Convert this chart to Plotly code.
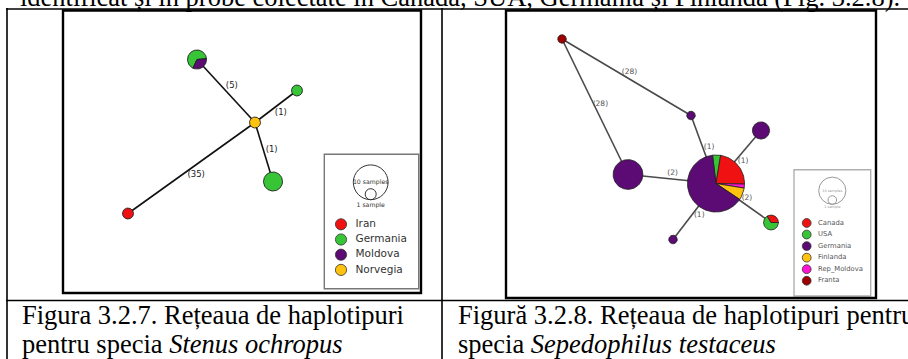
import numpy as np
import plotly.graph_objects as go

W, H = 908, 359

# ---------------- Stenus ochropus haplotype network ----------------
so_countries = ["Iran", "Germania", "Moldova", "Norvegia"]
so_colors = ["#f01212", "#37c437", "#5c0a74", "#ffc20e"]
so_slice_order = ["Germania", "Moldova", "Iran", "Norvegia"]
# node layout (network units) and sample counts per country
so_node_x = [134, 234, 192, 210, 65]
so_node_y = [49, 80, 112, 171, 203]
so_node_counts = [
    {"Germania": 2, "Moldova": 1},
    {"Germania": 1},
    {"Norvegia": 1},
    {"Germania": 3},
    {"Iran": 1},
]
so_node_start = [-115, 90, 90, 90, 90]
so_edges = [(2, 0), (2, 1), (2, 3), (2, 4)]
so_edge_steps = [5, 1, 1, 35]
so_edge_side = [1, 1, -1, -1]

# ---------------- Sepedophilus testaceus haplotype network ----------------
st_countries = ["Canada", "USA", "Germania", "Finlanda", "Rep_Moldova", "Franta"]
st_colors = ["#f01212", "#37c437", "#5c0a74", "#ffc20e", "#ff14d2", "#9e0000"]
st_slice_order = ["USA", "Canada", "Rep_Moldova", "Finlanda", "Germania", "Franta"]
st_node_x = [56, 185, 255, 122, 210, 265, 167]
st_node_y = [28.5, 105, 120, 164, 173, 212, 229]
st_node_counts = [
    {"Franta": 1},
    {"Germania": 1},
    {"Germania": 4},
    {"Germania": 12},
    {"Canada": 10, "USA": 2, "Germania": 28, "Finlanda": 3, "Rep_Moldova": 1},
    {"Canada": 1, "USA": 2},
    {"Germania": 1},
]
st_node_start = [90, 90, 90, 90, 97, 0, 90]
st_edges = [(0, 1), (0, 3), (4, 1), (4, 2), (3, 4), (4, 5), (4, 6)]
st_edge_steps = [28, 28, 1, 1, 2, 2, 1]
st_edge_side = [-1, -1, 1, 1, -1, -1, -1]

# ---------------- page text ----------------
top_text = "identificat și în probe colectate în Canada, SUA, Germania și Finlanda (Fig. 3.2.8)."
caption_left = ["Figura 3.2.7. Rețeaua de haplotipuri",
                "pentru specia <i>Stenus ochropus</i>"]
caption_right = ["Figură 3.2.8. Rețeaua de haplotipuri pentru",
                 "specia <i>Sepedophilus testaceus</i>"]

fig = go.Figure()


def arc_poly(cx, cy, r, a0, a1, wedge=True):
    n = max(int(abs(a1 - a0) / 3), 8)
    a = np.radians(np.linspace(a0, a1, n))
    xs = list(cx + r * np.cos(a))
    ys = list(cy - r * np.sin(a))
    if wedge:
        xs = [cx] + xs + [cx]
        ys = [cy] + ys + [cy]
    else:
        xs.append(xs[0])
        ys.append(ys[0])
    return xs, ys


def draw_network(xa, ya, countries, colors, order, nx, ny, counts, starts,
                 edges, steps, sides, rscale, line_col, line_w, lab_col,
                 lab_size, lab_off, outline_w):
    cmap = dict(zip(countries, colors))
    # edges
    ex, ey = [], []
    for a, b in edges:
        ex += [nx[a], nx[b], None]
        ey += [ny[a], ny[b], None]
    fig.add_trace(go.Scatter(x=ex, y=ey, mode="lines", xaxis=xa, yaxis=ya,
                             line=dict(color=line_col, width=line_w),
                             hoverinfo="skip"))
    # mutation step labels
    lx, ly, lt = [], [], []
    for (a, b), s, sd in zip(edges, steps, sides):
        dx, dy = nx[b] - nx[a], ny[b] - ny[a]
        L = np.hypot(dx, dy)
        px, py = -dy / L, dx / L
        lx.append((nx[a] + nx[b]) / 2 + sd * px * lab_off)
        ly.append((ny[a] + ny[b]) / 2 + sd * py * lab_off)
        lt.append(f"({s})")
    fig.add_trace(go.Scatter(x=lx, y=ly, text=lt, mode="text", xaxis=xa, yaxis=ya,
                             textfont=dict(family="DejaVu Sans", size=lab_size,
                                           color=lab_col),
                             hoverinfo="skip"))
    # haplotype nodes (pie charts, area proportional to sample count)
    for x0, y0, cnt, st in zip(nx, ny, counts, starts):
        total = sum(cnt.values())
        r = rscale * np.sqrt(total)
        a = st
        for c in order:
            k = cnt.get(c, 0)
            if k == 0:
                continue
            span = 360.0 * k / total
            if k == total:
                xs, ys = arc_poly(x0, y0, r, 0, 360, wedge=False)
            else:
                xs, ys = arc_poly(x0, y0, r, a, a - span)
            fig.add_trace(go.Scatter(x=xs, y=ys, mode="lines", fill="toself",
                                     fillcolor=cmap[c], xaxis=xa, yaxis=ya,
                                     line=dict(color="#1e1e1e", width=outline_w),
                                     hoverinfo="skip"))
            a -= span


# axes: one network per image panel, 1 unit = 1 pixel
panels = {
    "L": dict(x0=63, x1=421, y0=10.5, y1=293),
    "R": dict(x0=506, x1=876, y0=10.5, y1=298),
}
for key, ax, ay in (("L", "xaxis", "yaxis"), ("R", "xaxis2", "yaxis2")):
    p = panels[key]
    fig.layout[ax] = dict(domain=[p["x0"] / W, p["x1"] / W],
                          range=[0, p["x1"] - p["x0"]], visible=False,
                          fixedrange=True)
    fig.layout[ay] = dict(domain=[1 - p["y1"] / H, 1 - p["y0"] / H],
                          range=[p["y1"] - p["y0"], 0], visible=False,
                          fixedrange=True)

draw_network("x", "y", so_countries, so_colors, so_slice_order, so_node_x,
             so_node_y, so_node_counts, so_node_start, so_edges, so_edge_steps,
             so_edge_side, 5.5, "#111111", 1.6, "#222222", 8.5, 8, 0.9)
draw_network("x2", "y2", st_countries, st_colors, st_slice_order, st_node_x,
             st_node_y, st_node_counts, st_node_start, st_edges, st_edge_steps,
             st_edge_side, 4.3, "#4a4a4a", 1.6, "#555555", 7.5, 6, 0.8)

shapes = []
annotations = []


def draw_legend(xa, ya, box, countries, colors, rscale, dot_r, row0, dy,
                dot_x, text_x, font_size, text_col, box_col, circ_c, ssize,
                scol):
    shapes.append(dict(type="rect", xref=xa, yref=ya, x0=box[0], y0=box[1],
                       x1=box[2], y1=box[3], line=dict(color=box_col, width=1.4)))
    # sample-size key
    R10 = rscale * np.sqrt(10)
    R1 = rscale
    cx, cy = circ_c
    shapes.append(dict(type="circle", xref=xa, yref=ya, x0=cx - R10, x1=cx + R10,
                       y0=cy - R10, y1=cy + R10, line=dict(color=scol, width=1)))
    cy1 = cy + R10 - R1
    shapes.append(dict(type="circle", xref=xa, yref=ya, x0=cx - R1, x1=cx + R1,
                       y0=cy1 - R1, y1=cy1 + R1, line=dict(color=scol, width=1)))
    fig.add_trace(go.Scatter(x=[cx, cx], y=[cy, cy + R10 + ssize * 0.9],
                             text=["10 samples", "1 sample"], mode="text",
                             xaxis=xa, yaxis=ya,
                             textfont=dict(family="DejaVu Sans", size=ssize,
                                           color=scol), hoverinfo="skip"))
    ys = [row0 + i * dy for i in range(len(countries))]
    fig.add_trace(go.Scatter(x=[dot_x] * len(countries), y=ys, mode="markers",
                             xaxis=xa, yaxis=ya,
                             marker=dict(size=2 * dot_r, color=colors,
                                         line=dict(color="#333", width=0.8)),
                             hoverinfo="skip"))
    fig.add_trace(go.Scatter(x=[text_x] * len(countries), y=ys, text=countries,
                             mode="text", textposition="middle right",
                             xaxis=xa, yaxis=ya,
                             textfont=dict(family="DejaVu Sans", size=font_size,
                                           color=text_col), hoverinfo="skip"))


draw_legend("x", "y", (261.3, 143.8, 355.7, 278.2), so_countries, so_colors,
            5.5, 5.6, 213.8, 15.2, 278, 292.5, 10.5, "#333333", "#777777",
            (307.7, 171.8), 6.2, "#333333")
draw_legend("x2", "y2", (288, 159.2, 364.7, 285.5), st_countries, st_colors,
            4.3, 4.4, 212.5, 11.55, 300.7, 312, 6.8, "#555555", "#b0b0b0",
            (326.3, 180.2), 3.5, "#999999")


def px(x):
    return x / W


def py(y):
    return 1 - y / H


def hline(x0, x1, y, w):
    shapes.append(dict(type="line", xref="paper", yref="paper", x0=px(x0),
                       x1=px(x1), y0=py(y), y1=py(y),
                       line=dict(color="black", width=w)))


def vline(x, y0, y1, w):
    shapes.append(dict(type="line", xref="paper", yref="paper", x0=px(x),
                       x1=px(x), y0=py(y0), y1=py(y1),
                       line=dict(color="black", width=w)))


# table grid
hline(6, W + 2, 9, 1.6)
hline(6, W + 2, 300.5, 1.6)
vline(7, 8, H + 2, 1.6)
vline(442, 8, H + 2, 1.6)
# image frames
for p in panels.values():
    shapes.append(dict(type="rect", xref="paper", yref="paper", x0=px(p["x0"]),
                       x1=px(p["x1"]), y0=py(p["y1"]), y1=py(p["y0"]),
                       line=dict(color="black", width=2.4)))

serif = dict(family="Liberation Serif", size=26.5, color="black")
annotations.append(dict(text=top_text, xref="paper", yref="paper", x=px(18),
                        y=py(-3), xanchor="left", yanchor="middle",
                        showarrow=False, font=serif))
for i, t in enumerate(caption_left):
    annotations.append(dict(text=t, xref="paper", yref="paper", x=px(20),
                            y=py(314.5 + 29 * i), xanchor="left", yanchor="middle",
                            showarrow=False, font=serif))
for i, t in enumerate(caption_right):
    annotations.append(dict(text=t, xref="paper", yref="paper", x=px(456),
                            y=py(314.5 + 29 * i), xanchor="left", yanchor="middle",
                            showarrow=False, font=serif))

fig.update_layout(width=W, height=H, margin=dict(l=0, r=0, t=0, b=0),
                  paper_bgcolor="white", plot_bgcolor="white",
                  showlegend=False, shapes=shapes, annotations=annotations)

fig.write_html("out.html")
